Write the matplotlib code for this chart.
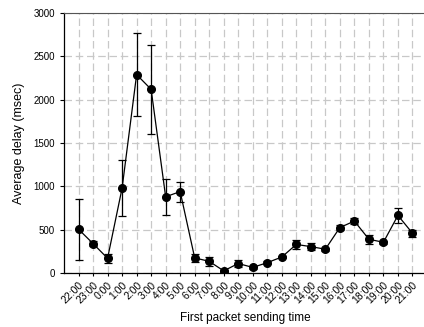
import matplotlib
matplotlib.use("Agg")
import matplotlib.pyplot as plt
import numpy as np

plt.rcParams['font.family'] = ['Liberation Sans', 'DejaVu Sans']

hours = ['22:00', '23:00', '0:00', '1:00', '2:00', '3:00', '4:00', '5:00',
         '6:00', '7:00', '8:00', '9:00', '10:00', '11:00', '12:00', '13:00',
         '14:00', '15:00', '16:00', '17:00', '18:00', '19:00', '20:00', '21:00']
delay = [505, 340, 170, 980, 2290, 2120, 880, 940,
         175, 135, 25, 110, 65, 120, 185, 330,
         305, 275, 525, 600, 390, 355, 665, 460]
err = [355, 25, 50, 320, 480, 515, 210, 115,
       45, 55, 10, 45, 15, 20, 15, 50,
       40, 15, 30, 30, 50, 15, 90, 40]

fig = plt.figure(figsize=(4.24, 3.27), dpi=100)
ax = fig.add_axes([0.151, 0.165, 0.856, 0.795])

x = np.arange(len(hours))
ax.errorbar(x, delay, yerr=err, fmt='o-', color='black', markersize=5.5,
            linewidth=0.9, elinewidth=0.9, capsize=3, capthick=0.9)

ax.set_xlim(-1, 24)
ax.set_ylim(0, 3000)
ax.set_yticks(np.arange(0, 3001, 500))
ax.set_xticks(x)
ax.set_xticklabels(hours, rotation=45, ha='right', rotation_mode='anchor',
                   fontsize=7.5)
ax.tick_params(axis='y', labelsize=7, length=3, width=0.8)
ax.tick_params(axis='x', length=2.5, width=0.8, pad=2.5)

ax.grid(True, color='#c8c8c8', linestyle=(0, (6, 3)), linewidth=0.9)
ax.set_axisbelow(True)

ax.spines['right'].set_visible(False)
ax.spines['top'].set_color('#555555')
ax.spines['left'].set_linewidth(0.9)
ax.spines['bottom'].set_linewidth(0.9)

ax.set_xlabel('First packet sending time', fontsize=8.5, labelpad=5)
ax.set_ylabel('Average delay (msec)', fontsize=9, labelpad=6)

fig.savefig('out.png', dpi=100)
